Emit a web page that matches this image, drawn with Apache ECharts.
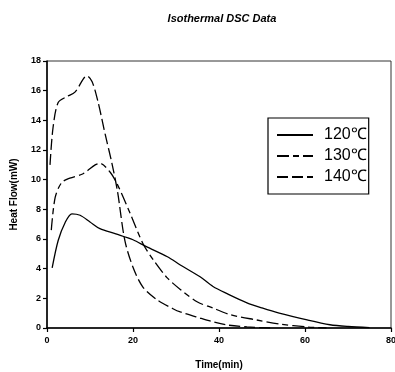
<!DOCTYPE html>
<html>
<head>
<meta charset="utf-8">
<script src="https://cdn.jsdelivr.net/npm/echarts@6/dist/echarts.min.js"></script>
<style>
  html, body { margin: 0; padding: 0; background: #fff; }
  #chart { width: 395px; height: 372px; }
</style>
</head>
<body>
<div id="chart"></div>
<script>
// temperatures shown in the legend
const seriesNames = ['120\u2103', '130\u2103', '140\u2103'];

// [time (min), heat flow (mW)]
const flow120 = [[1.2, 4.05], [2.6, 5.9], [4.2, 7.1], [5.8, 7.7], [7.7, 7.6], [10, 7.15], [12.3, 6.7],
	[16, 6.35], [20, 5.95], [23, 5.5], [28, 4.8], [31, 4.25], [35.6, 3.45], [38.6, 2.8], [42, 2.3],
	[46.5, 1.7], [50, 1.35], [54, 1.0], [60.5, 0.54], [65.8, 0.22], [70, 0.1], [75, 0.02]];
const flow130 = [[1, 6.6], [1.9, 8.8], [3.4, 9.8], [5.3, 10.1], [8.4, 10.4], [11.2, 11.0], [12.3, 11.1],
	[14.7, 10.5], [16.5, 9.6], [19.3, 7.75], [22.3, 5.7], [24.7, 4.6], [27.9, 3.4], [31, 2.6], [35, 1.75],
	[38.6, 1.35], [42.6, 0.9], [48.8, 0.54], [54, 0.27], [60.5, 0.07], [65, 0]];
const flow140 = [[0.7, 11], [1.4, 13.5], [2.6, 15.2], [4.6, 15.6], [6.5, 15.9], [9.3, 17.0], [10.5, 16.6],
	[11.9, 15.2], [13.5, 13.1], [15.1, 11.1], [16.4, 9.2], [18.1, 5.9], [20, 4.1], [22.3, 2.76],
	[25.6, 1.9], [29.3, 1.3], [31, 1.08], [35.6, 0.67], [38.6, 0.42], [42, 0.2], [46.5, 0.07], [52, 0]];

const xTicks = {min: 0, max: 80, interval: 20};
const yTicks = {min: 0, max: 18, interval: 2};

const font = 'Liberation Sans, Arial, sans-serif';
const dashes = ['solid', [12, 4, 6, 4], [11, 4]];
const allData = [flow120, flow130, flow140];

const chart = echarts.init(document.getElementById('chart'));

const axisCommon = {
	axisLine: {lineStyle: {color: '#000', width: 1.5}},
	axisTick: {inside: false, length: 4, lineStyle: {color: '#000', width: 1.2}},
	axisLabel: {color: '#000', fontFamily: font, fontSize: 9, fontWeight: 'bold'},
	splitLine: {show: false},
	nameTextStyle: {color: '#000', fontFamily: font, fontSize: 10, fontWeight: 'bold'},
};

chart.setOption({
	animation: false,
	backgroundColor: '#fff',
	title: {
		text: 'Isothermal DSC Data',
		left: 217,
		top: 8,
		textAlign: 'center',
		textStyle: {fontFamily: font, fontSize: 11, fontWeight: 'bold', fontStyle: 'italic', color: '#000'},
	},
	grid: {
		left: 47, right: 4, top: 61, bottom: 44,
		outerBoundsMode: 'none',
		show: true, borderColor: '#333', borderWidth: 1,
	},
	legend: {
		data: seriesNames,
		orient: 'vertical',
		left: 268,
		top: 118,
		padding: [9, 2, 9, 8],
		itemGap: 5,
		itemWidth: 36,
		itemHeight: 14,
		itemStyle: {opacity: 0},
		borderColor: '#000',
		borderWidth: 1.2,
		textStyle: {color: '#000', fontFamily: font, fontSize: 16, padding: [0, 0, 0, 6]},
	},
	xAxis: Object.assign({}, axisCommon, {
		type: 'value',
		min: xTicks.min, max: xTicks.max, interval: xTicks.interval,
		name: 'Time(min)',
		nameLocation: 'middle',
		nameGap: 32,
		axisLabel: Object.assign({}, axisCommon.axisLabel, {margin: 8}),
	}),
	yAxis: Object.assign({}, axisCommon, {
		type: 'value',
		min: yTicks.min, max: yTicks.max, interval: yTicks.interval,
		name: 'Heat Flow(mW)',
		nameLocation: 'middle',
		nameGap: 28,
		axisLabel: Object.assign({}, axisCommon.axisLabel, {margin: 6}),
	}),
	series: seriesNames.map((name, i) => ({
		name,
		type: 'line',
		smooth: 0.3,
		symbol: 'none',
		data: allData[i],
		lineStyle: {color: '#000', width: 1.3, type: dashes[i]},
		itemStyle: {color: '#000'},
	})),
});
</script>
</body>
</html>
